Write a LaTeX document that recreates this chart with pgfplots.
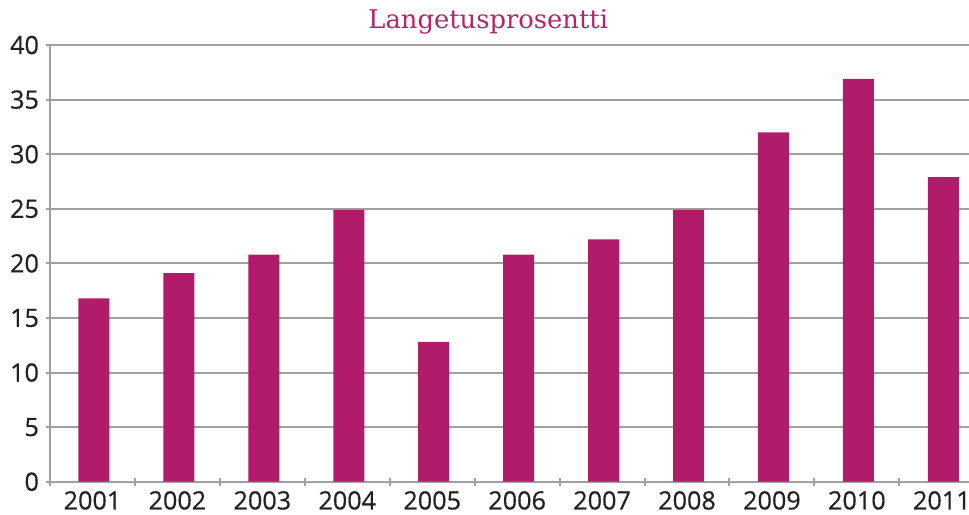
\documentclass[border=0pt]{standalone}
\usepackage{fontspec}
\setmainfont{Open Sans}[FakeBold=0.5]
\newfontfamily\titlefont{DejaVu Serif}
\usepackage{pgfplots}
\pgfplotsset{compat=1.18}
\usetikzlibrary{calc}

\definecolor{barcol}{HTML}{B01C69}
\definecolor{titlecol}{HTML}{B5236E}
\definecolor{gridcol}{HTML}{A0A0A0}
\definecolor{labcol}{HTML}{222222}

\begin{document}
\begin{tikzpicture}
\begin{axis}[
    scale only axis,
    width=459.5pt,
    height=218.35pt,
    ybar,
    bar width=15.5pt,
    bar shift=0.75pt,
    xmin=-0.5, xmax=10.32,
    ymin=0, ymax=40,
    ytick={0,5,...,40},
    xtick={0,...,10},
    xticklabels={2001,2002,2003,2004,2005,2006,2007,2008,2009,2010,2011},
    minor xtick={-0.5,0.5,...,10.5},
    major x tick style={draw=none},
    tick align=outside,
    major tick length=4pt,
    minor tick length=4pt,
    tick style={draw=gridcol, line width=1pt},
    axis x line=bottom,
    axis y line=left,
    axis line style={draw=gridcol, line width=1pt, -},
    ymajorgrids,
    grid style={draw=gridcol, line width=1pt},
    ticklabel style={font=\fontsize{12.6}{15}\selectfont, text=labcol},
    xticklabel style={yshift=0.8pt},
    /pgf/number format/assume math mode=true,
    clip=false,
]
\addplot[fill=barcol, draw=none] coordinates {
    (0,16.8) (1,19.1) (2,20.8) (3,24.9) (4,12.8) (5,20.8)
    (6,22.2) (7,24.9) (8,32.0) (9,36.9) (10,27.9)
};
\node[font=\titlefont\fontsize{12.9}{15}\selectfont, text=titlecol]
    at (axis cs:4.66,42.1) {Langetusprosentti};
\end{axis}
\pgfresetboundingbox
\path ($(current axis.south west)+(-25pt,-16.6pt)$) rectangle ($(current axis.north east)+(0pt,22.5pt)$);
\end{tikzpicture}
\end{document}
